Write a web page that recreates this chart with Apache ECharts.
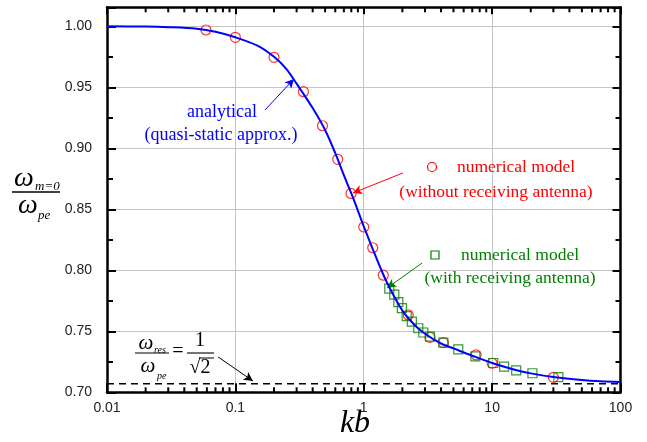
<!DOCTYPE html>
<html><head><meta charset="utf-8">
<script src="https://cdn.jsdelivr.net/npm/echarts@6/dist/echarts.min.js"></script>
<style>html,body{margin:0;padding:0;background:#fff}#c{width:647px;height:442px}</style>
</head><body><div id="c"></div>
<script>
// ---- data ----
const xTickLabels = ['0.01', '0.1', '1', '10', '100'];
const analyticalKb = [0.01,0.02,0.03,0.05,0.07,0.1,0.15,0.2,0.25,0.3,0.4,0.5,0.6,0.7,0.8,0.9,1.0,1.2,1.4,1.6,2.0,2.5,3,4,5,7,10,15,20,30,50,70,100];
const analyticalW  = [1.000,0.9998,0.9993,0.998,0.9955,0.991,0.984,0.975,0.965,0.953,0.933,0.915,0.896,0.878,0.863,0.849,0.836,0.815,0.798,0.785,0.767,0.755,0.748,0.740,0.736,0.730,0.724,0.7185,0.7155,0.7125,0.710,0.709,0.7085];
const noAntKb = [0.059,0.1,0.2,0.339,0.477,0.627,0.796,1.0,1.175,1.42,2.22,3.28,4.17,7.5,10,30];
const noAntW  = [0.997,0.991,0.9746,0.9464,0.9185,0.891,0.863,0.8355,0.8185,0.796,0.7634,0.745,0.7407,0.7306,0.7238,0.7123];
const withAntKb = [1.58,1.73,1.86,1.98,2.16,2.37,2.66,2.91,3.28,4.17,5.45,7.4,10.2,12.4,15.4,20.6,32.8];
const withAntW  = [0.785,0.780,0.774,0.769,0.7625,0.758,0.7525,0.749,0.7456,0.7407,0.7352,0.7295,0.724,0.721,0.718,0.7156,0.7125];
const resonanceKb = [0.01, 100];
const resonanceW = [0.7071, 0.7071];

const X_MIN = 0.01, X_MAX = 100, Y_MIN = 0.70, Y_MAX = 1.0156;
// log-axis minor tick positions (2..9 in each decade)
const minorX = [];
for (let d = -2; d < 2; d++) for (let m = 2; m <= 9; m++) minorX.push(+(m * Math.pow(10, d)).toPrecision(3));

const zip = (a, b) => a.map((v, i) => [v, b[i]]);
const SERIF = '"Liberation Serif", "Times New Roman", serif';
const SANS = '"Liberation Sans", Arial, sans-serif';

const chart = echarts.init(document.getElementById('c'), null, {renderer: 'canvas'});

function txt(x, y, text, size, color, opts) {
  opts = opts || {};
  return {
    type: 'text', x: x, y: y, z: 100, silent: true,
    style: {
      text: text, fill: color || '#000', fontSize: size, fontFamily: opts.family || SERIF,
      fontStyle: opts.italic ? 'italic' : 'normal',
      align: opts.align || 'left', textAlign: opts.align || 'left',
      verticalAlign: 'middle', textVerticalAlign: 'middle'
    }
  };
}
function hline(x1, x2, y, w) {
  return {type: 'line', z: 100, silent: true, shape: {x1: x1, y1: y, x2: x2, y2: y}, style: {stroke: '#000', lineWidth: w || 1.2}};
}

const axisCommon = {
  axisLine: {show: true, onZero: false, lineStyle: {color: '#000', width: 2.5}},
};

const option = {
  animation: false,
  backgroundColor: '#fff',
  grid: {left: 107, right: 26.5, top: 7.3, bottom: 49.7, outerBoundsMode: 'none', containLabel: false},
  xAxis: [
    Object.assign({}, axisCommon, {
      type: 'log', logBase: 10, min: X_MIN, max: X_MAX, position: 'bottom',
      axisTick: {show: true, inside: true, length: 9, lineStyle: {color: '#000', width: 2}},
      axisLabel: {show: true, color: '#222', fontSize: 14, fontFamily: SANS, margin: 9,
        formatter: function (v) { const i = Math.round(Math.log10(v)) + 2; return xTickLabels[i] !== undefined ? xTickLabels[i] : ''; }},
      splitLine: {show: true, lineStyle: {color: '#c4c4c4', width: 1}}
    }),
    Object.assign({}, axisCommon, {
      type: 'log', logBase: 10, min: X_MIN, max: X_MAX, position: 'top',
      axisTick: {show: true, inside: true, length: 7, lineStyle: {color: '#000', width: 2}},
      axisLabel: {show: false}, splitLine: {show: false}
    })
  ],
  yAxis: [
    Object.assign({}, axisCommon, {
      type: 'value', min: Y_MIN, max: Y_MAX, interval: 0.05, position: 'left',
      axisTick: {show: true, inside: true, length: 9, lineStyle: {color: '#000', width: 2}},
      minorTick: {show: true, splitNumber: 2, length: 6, lineStyle: {color: '#000', width: 2}},
      axisLabel: {show: true, color: '#222', fontSize: 14, fontFamily: SANS, margin: 15, showMaxLabel: false,
        formatter: function (v) { return v.toFixed(2); }},
      splitLine: {show: true, lineStyle: {color: '#c4c4c4', width: 1}}
    }),
    Object.assign({}, axisCommon, {
      type: 'value', min: Y_MIN, max: Y_MAX, interval: 0.05, position: 'right',
      axisTick: {show: true, inside: true, length: 8, lineStyle: {color: '#000', width: 2}},
      minorTick: {show: true, splitNumber: 2, length: 5, lineStyle: {color: '#000', width: 2}},
      axisLabel: {show: false}, splitLine: {show: false}
    })
  ],
  series: [
    {
      name: 'minor ticks', type: 'custom', coordinateSystem: 'cartesian2d', xAxisIndex: 0, yAxisIndex: 0,
      silent: true, clip: false, z: 10,
      data: minorX.map(v => [v, Y_MIN]), encode: {x: 0, y: 1},
      renderItem: function (params, api) {
        const x = api.value(0);
        const b = api.coord([x, Y_MIN]);
        const t = api.coord([x, Y_MAX]);
        return {type: 'group', children: [
          {type: 'line', shape: {x1: b[0], y1: b[1], x2: b[0], y2: b[1] - 5}, style: {stroke: '#000', lineWidth: 2}},
          {type: 'line', shape: {x1: t[0], y1: t[1], x2: t[0], y2: t[1] + 5}, style: {stroke: '#000', lineWidth: 2}}
        ]};
      }
    },
    {
      name: 'resonance', type: 'line', data: zip(resonanceKb, resonanceW), showSymbol: false, silent: true,
      lineStyle: {color: '#000', width: 1.5, type: [7, 5]}, z: 3,
      markLine: {
        silent: true, symbol: ['none', 'arrow'], symbolSize: [7, 9], label: {show: false},
        lineStyle: {type: 'solid', width: 1},
        data: [
          [{coord: [0.17, 0.9314], lineStyle: {color: '#0000ff'}, itemStyle: {color: '#0000ff'}}, {coord: [0.286, 0.9568]}],
          [{coord: [2.02, 0.8798], lineStyle: {color: '#ff0000'}, itemStyle: {color: '#ff0000'}}, {coord: [0.825, 0.8634]}],
          [{coord: [2.85, 0.806], lineStyle: {color: '#008000'}, itemStyle: {color: '#008000'}}, {coord: [1.52, 0.7855]}],
          [{coord: [0.0733, 0.729], lineStyle: {color: '#000'}, itemStyle: {color: '#000'}}, {coord: [0.137, 0.7093]}]
        ]
      }
    },
    {
      name: 'numerical (without receiving antenna)', type: 'scatter', data: zip(noAntKb, noAntW),
      symbol: 'circle', symbolSize: 10, z: 4,
      itemStyle: {color: 'rgba(0,0,0,0)', borderColor: '#ff0000', borderWidth: 1.2}
    },
    {
      name: 'numerical (with receiving antenna)', type: 'scatter', data: zip(withAntKb, withAntW),
      symbol: 'rect', symbolSize: 9, z: 5,
      itemStyle: {color: 'rgba(0,0,0,0)', borderColor: '#008000', borderWidth: 1.2}
    },
    {
      name: 'analytical', type: 'line', data: zip(analyticalKb, analyticalW), smooth: 0.3,
      showSymbol: false, silent: true, z: 6,
      lineStyle: {color: '#0000ff', width: 2}
    }
  ],
  graphic: [
    // y-axis label: omega_{m=0} / omega_{pe}
    txt(24, 179, 'ω', 28, '#000', {italic: true, align: 'center'}),
    txt(35, 187, 'm=0', 13, '#000', {italic: true}),
    hline(12, 60, 192, 1.3),
    txt(28, 206, 'ω', 28, '#000', {italic: true, align: 'center'}),
    txt(38, 216, 'pe', 13, '#000', {italic: true}),
    // x-axis label
    txt(355, 424, 'kb', 32, '#000', {italic: true, align: 'center'}),
    // annotations
    txt(222, 112, 'analytical', 18, '#0000ff', {align: 'center'}),
    txt(221, 135, '(quasi-static approx.)', 18, '#0000ff', {align: 'center'}),
    {type: 'circle', z: 100, silent: true, shape: {cx: 432, cy: 167, r: 4.5}, style: {fill: 'none', stroke: '#ff0000', lineWidth: 1.2}},
    txt(516, 167, 'numerical model', 17.5, '#ff0000', {align: 'center'}),
    txt(496, 192, '(without receiving antenna)', 17.5, '#ff0000', {align: 'center'}),
    {type: 'rect', z: 100, silent: true, shape: {x: 431, y: 251, width: 8, height: 8}, style: {fill: 'none', stroke: '#008000', lineWidth: 1.2}},
    txt(520, 255, 'numerical model', 17.5, '#008000', {align: 'center'}),
    txt(510, 278, '(with receiving antenna)', 17.5, '#008000', {align: 'center'}),
    // resonance formula
    txt(146, 343, 'ω', 21, '#000', {italic: true, align: 'center'}),
    txt(154, 350, 'res', 10, '#000', {italic: true}),
    hline(135, 169, 353, 1.1),
    txt(148, 366, 'ω', 21, '#000', {italic: true, align: 'center'}),
    txt(157, 376, 'pe', 10, '#000', {italic: true}),
    txt(178, 352, '=', 20, '#000', {align: 'center'}),
    txt(200, 341, '1', 20, '#000', {align: 'center'}),
    hline(187, 214, 353, 1.1),
    txt(200, 368, '√2', 20, '#000', {align: 'center'}),
    hline(199, 214, 358, 1)
  ]
};
chart.setOption(option);
</script>
</body></html>
